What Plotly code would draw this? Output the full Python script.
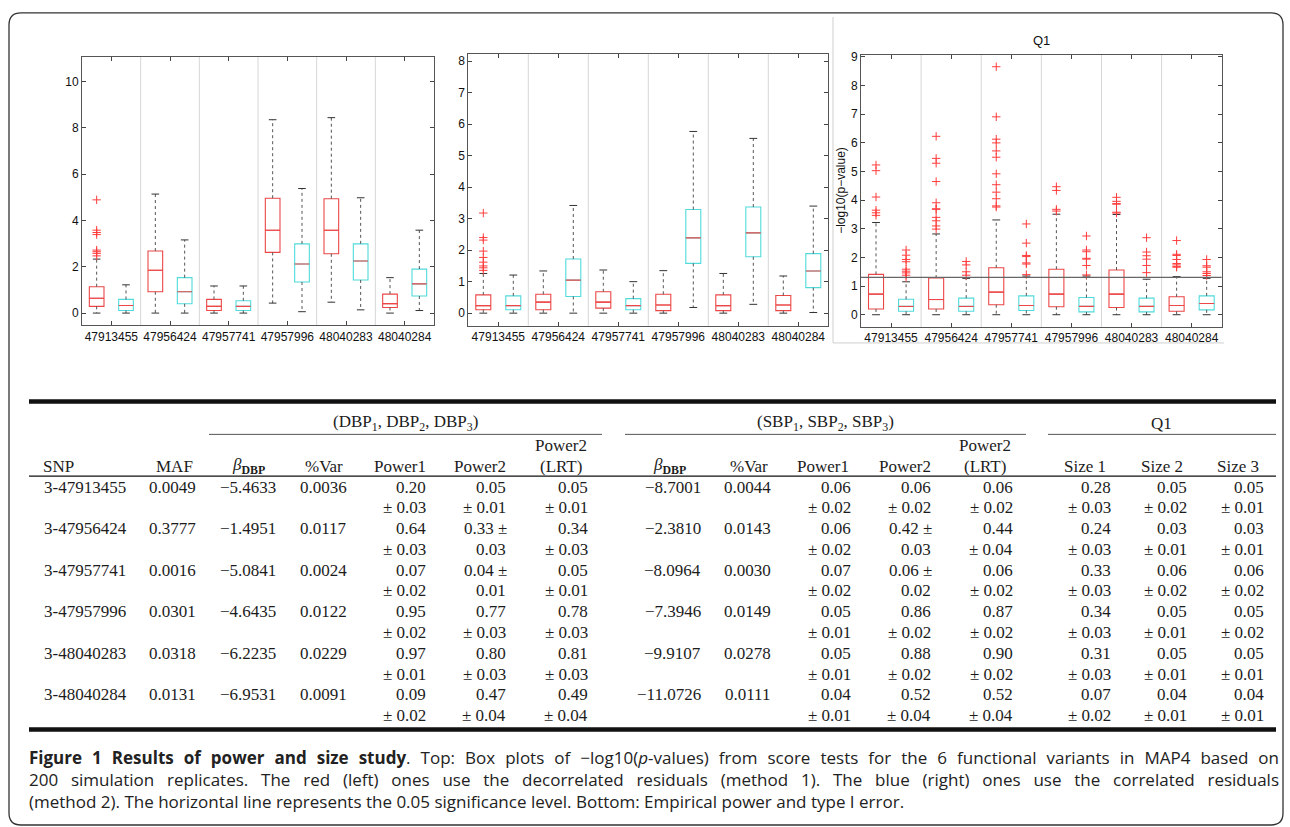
import math
import plotly.graph_objects as go

W, H = 1290, 827

# ---------------- data: box plots ----------------
snp_labels = ["47913455", "47956424", "47957741", "47957996", "48040283", "48040284"]

# Panel 1 (DBP)
p1_red_q1 = [0.29, 0.92, 0.11, 2.62, 2.56, 0.24]
p1_red_med = [0.64, 1.85, 0.29, 3.58, 3.58, 0.41]
p1_red_q3 = [1.14, 2.68, 0.59, 4.96, 4.94, 0.82]
p1_red_lo = [0.0, 0.0, 0.0, 0.43, 0.47, 0.0]
p1_red_hi = [2.33, 5.14, 1.17, 8.35, 8.44, 1.53]
p1_red_out = [[4.89, 3.58, 3.48, 3.39, 2.72, 2.65, 2.58, 2.47], [], [], [], [], []]
p1_cyan_q1 = [0.11, 0.40, 0.11, 1.34, 1.43, 0.74]
p1_cyan_med = [0.33, 0.92, 0.29, 2.12, 2.25, 1.26]
p1_cyan_q3 = [0.59, 1.53, 0.53, 2.99, 2.99, 1.90]
p1_cyan_lo = [0.0, 0.0, 0.0, 0.06, 0.14, 0.11]
p1_cyan_hi = [1.22, 3.16, 1.17, 5.38, 4.98, 3.58]
p1_cyan_out = [[], [], [], [], [], []]

# Panel 2 (SBP)
p2_red_q1 = [0.11, 0.11, 0.16, 0.08, 0.08, 0.08]
p2_red_med = [0.24, 0.35, 0.35, 0.26, 0.24, 0.26]
p2_red_q3 = [0.58, 0.60, 0.68, 0.60, 0.58, 0.56]
p2_red_lo = [0.0, 0.0, 0.0, 0.0, 0.0, 0.0]
p2_red_hi = [1.26, 1.34, 1.37, 1.35, 1.26, 1.18]
p2_red_out = [[3.18, 2.40, 2.32, 1.97, 1.77, 1.62, 1.50, 1.44, 1.36], [], [], [], [], []]
p2_cyan_q1 = [0.11, 0.53, 0.11, 1.58, 1.79, 0.81]
p2_cyan_med = [0.24, 1.05, 0.24, 2.39, 2.55, 1.34]
p2_cyan_q3 = [0.55, 1.72, 0.46, 3.29, 3.37, 1.89]
p2_cyan_lo = [0.0, 0.0, 0.0, 0.18, 0.28, 0.02]
p2_cyan_hi = [1.21, 3.42, 1.00, 5.77, 5.55, 3.40]
p2_cyan_out = [[], [], [], [], [], []]

# Panel 3 (Q1)
p3_red_q1 = [0.20, 0.20, 0.35, 0.28, 0.25, 0.12]
p3_red_med = [0.72, 0.53, 0.79, 0.72, 0.72, 0.32]
p3_red_q3 = [1.41, 1.28, 1.64, 1.59, 1.56, 0.63]
p3_red_lo = [0.0, 0.0, 0.0, 0.0, 0.0, 0.0]
p3_red_hi = [3.22, 2.82, 3.31, 3.51, 3.50, 1.33]
p3_red_out = [
    [5.23, 5.03, 4.11, 3.65, 3.56, 3.47],
    [6.23, 5.46, 5.29, 4.65, 3.91, 3.70, 3.68, 3.40, 3.28, 3.10, 2.99],
    [8.66, 6.91, 6.13, 6.00, 5.72, 5.50, 4.92, 4.54, 4.28, 4.05, 3.80, 3.76],
    [4.47, 4.34, 3.68, 3.62],
    [4.10, 3.96, 3.88, 3.86, 3.58, 3.55],
    [2.59, 2.11, 2.07, 1.93, 1.79, 1.74, 1.68, 1.66],
]
p3_cyan_q1 = [0.12, 0.12, 0.15, 0.10, 0.10, 0.17]
p3_cyan_med = [0.29, 0.29, 0.32, 0.29, 0.29, 0.39]
p3_cyan_q3 = [0.54, 0.58, 0.66, 0.60, 0.58, 0.66]
p3_cyan_lo = [0.0, 0.0, 0.0, 0.0, 0.0, 0.0]
p3_cyan_hi = [1.15, 1.27, 1.35, 1.35, 1.24, 1.27]
p3_cyan_out = [
    [2.26, 2.08, 1.93, 1.85, 1.59, 1.52, 1.46, 1.38, 1.30],
    [1.86, 1.74, 1.50, 1.38],
    [3.17, 2.50, 2.07, 2.03, 1.81, 1.77, 1.40],
    [2.75, 2.26, 2.20, 1.97, 1.94, 1.72, 1.39],
    [2.69, 2.19, 2.06, 1.94, 1.72, 1.47],
    [1.93, 1.71, 1.66, 1.50, 1.44, 1.37],
]
alpha_level = 0.05

# ---------------- data: table ----------------
table_snps = ["3-47913455", "3-47956424", "3-47957741", "3-47957996", "3-48040283", "3-48040284"]
table_maf = ["0.0049", "0.3777", "0.0016", "0.0301", "0.0318", "0.0131"]
dbp_beta = [-5.4633, -1.4951, -5.0841, -4.6435, -6.2235, -6.9531]
dbp_var = [0.0036, 0.0117, 0.0024, 0.0122, 0.0229, 0.0091]
dbp_power1 = [0.20, 0.64, 0.07, 0.95, 0.97, 0.09]
dbp_power1_se = [0.03, 0.03, 0.02, 0.02, 0.01, 0.02]
dbp_power2 = [0.05, 0.33, 0.04, 0.77, 0.80, 0.47]
dbp_power2_se = [0.01, 0.03, 0.01, 0.03, 0.03, 0.04]
dbp_lrt = [0.05, 0.34, 0.05, 0.78, 0.81, 0.49]
dbp_lrt_se = [0.01, 0.03, 0.01, 0.03, 0.03, 0.04]
sbp_beta = [-8.7001, -2.3810, -8.0964, -7.3946, -9.9107, -11.0726]
sbp_var = [0.0044, 0.0143, 0.0030, 0.0149, 0.0278, 0.0111]
sbp_power1 = [0.06, 0.06, 0.07, 0.05, 0.05, 0.04]
sbp_power1_se = [0.02, 0.02, 0.02, 0.01, 0.01, 0.01]
sbp_power2 = [0.06, 0.42, 0.06, 0.86, 0.88, 0.52]
sbp_power2_se = [0.02, 0.03, 0.02, 0.02, 0.02, 0.04]
sbp_lrt = [0.06, 0.44, 0.06, 0.87, 0.90, 0.52]
sbp_lrt_se = [0.02, 0.04, 0.02, 0.02, 0.02, 0.04]
q1_size1 = [0.28, 0.24, 0.33, 0.34, 0.31, 0.07]
q1_size1_se = [0.03, 0.03, 0.03, 0.03, 0.03, 0.02]
q1_size2 = [0.05, 0.03, 0.06, 0.05, 0.05, 0.04]
q1_size2_se = [0.02, 0.01, 0.02, 0.01, 0.01, 0.01]
q1_size3 = [0.05, 0.03, 0.06, 0.05, 0.05, 0.04]
q1_size3_se = [0.01, 0.01, 0.02, 0.02, 0.01, 0.01]
# rows where the "±" is typeset at the end of the first line (Power2 columns)
pm_inline_rows = [1, 2]

caption_lines = [
    "<b>Figure 1 Results of power and size study</b>. Top: Box plots of \u2212log10(<i>p</i>-values) from score tests for the 6 functional variants in MAP4 based on",
    "200 simulation replicates. The red (left) ones use the decorrelated residuals (method 1). The blue (right) ones use the correlated residuals",
    "(method 2). The horizontal line represents the 0.05 significance level. Bottom: Empirical power and type I error.",
]

# ---------------- style ----------------
RED = "rgb(236,70,70)"
CYAN = "rgb(80,218,218)"
WHISK = "#555555"
SANS = "Liberation Sans, Arial, sans-serif"
SERIF = "Liberation Serif, Times New Roman, serif"
CAPF = "Open Sans, Noto Sans, sans-serif"
OFFSET = 0.25
BOXW = 0.25
CAPW = 0.065


def fx(px):
    return px / W


def fy(py):
    return 1 - py / H


fig = go.Figure()
shapes = []
annotations = []

panels = [
    dict(xa="x", ya="y", xd=(82, 434), yd=(52.3, 322.3), yr=[-0.53, 11.06], dtick=2,
         red=(p1_red_q1, p1_red_med, p1_red_q3, p1_red_lo, p1_red_hi, p1_red_out),
         cyan=(p1_cyan_q1, p1_cyan_med, p1_cyan_q3, p1_cyan_lo, p1_cyan_hi, p1_cyan_out)),
    dict(xa="x2", ya="y2", xd=(468.3, 828.3), yd=(49.3, 322.7), yr=[-0.40, 8.23], dtick=1,
         red=(p2_red_q1, p2_red_med, p2_red_q3, p2_red_lo, p2_red_hi, p2_red_out),
         cyan=(p2_cyan_q1, p2_cyan_med, p2_cyan_q3, p2_cyan_lo, p2_cyan_hi, p2_cyan_out)),
    dict(xa="x3", ya="y3", xd=(861, 1221.7), yd=(50, 324), yr=[-0.43, 9.08], dtick=1,
         red=(p3_red_q1, p3_red_med, p3_red_q3, p3_red_lo, p3_red_hi, p3_red_out),
         cyan=(p3_cyan_q1, p3_cyan_med, p3_cyan_q3, p3_cyan_lo, p3_cyan_hi, p3_cyan_out)),
]

n = len(snp_labels)
layout_axes = {}
for k, p in enumerate(panels):
    xa, ya = p["xa"], p["ya"]
    # separators between groups
    for i in range(1, n):
        shapes.append(dict(type="line", xref=xa, yref=ya + " domain", x0=i + 0.5, x1=i + 0.5,
                           y0=0, y1=1, line=dict(color="#d6d6d6", width=1), layer="below"))
    for key, col, off in (("red", RED, -OFFSET), ("cyan", CYAN, OFFSET)):
        q1, med, q3, lo, hi, out = p[key]
        pos = [i + 1 + off for i in range(n)]
        # whiskers (dashed)
        wx, wy = [], []
        for x, a, b, c, d in zip(pos, q3, hi, q1, lo):
            wx += [x, x, None, x, x, None]
            wy += [a, b, None, c, d, None]
        fig.add_trace(go.Scatter(x=wx, y=wy, mode="lines", xaxis=xa, yaxis=ya,
                                 line=dict(color=WHISK, width=1, dash="3px,3px"),
                                 showlegend=False, hoverinfo="skip"))
        # whisker caps
        cx, cy = [], []
        for x, b, d in zip(pos, hi, lo):
            cx += [x - CAPW, x + CAPW, None, x - CAPW, x + CAPW, None]
            cy += [b, b, None, d, d, None]
        fig.add_trace(go.Scatter(x=cx, y=cy, mode="lines", xaxis=xa, yaxis=ya,
                                 line=dict(color="#333333", width=1),
                                 showlegend=False, hoverinfo="skip"))
        # boxes
        fig.add_trace(go.Box(x=pos, q1=q1, median=med, q3=q3, lowerfence=q1, upperfence=q3,
                             width=BOXW, whiskerwidth=0, boxpoints=False,
                             line=dict(color=col, width=1.1), fillcolor="rgba(255,255,255,0)",
                             xaxis=xa, yaxis=ya, showlegend=False, hoverinfo="skip"))
        # medians (always red)
        mx, my = [], []
        for x, m in zip(pos, med):
            mx += [x - BOXW / 2, x + BOXW / 2, None]
            my += [m, m, None]
        fig.add_trace(go.Scatter(x=mx, y=my, mode="lines", xaxis=xa, yaxis=ya,
                                 line=dict(color=RED, width=1.1),
                                 showlegend=False, hoverinfo="skip"))
        # outliers
        ox, oy = [], []
        for x, o in zip(pos, out):
            ox += [x] * len(o)
            oy += list(o)
        if ox:
            fig.add_trace(go.Scatter(x=ox, y=oy, mode="markers", xaxis=xa, yaxis=ya,
                                     marker=dict(symbol="cross-thin", size=6,
                                                 line=dict(color="rgb(255,60,60)", width=1)),
                                     showlegend=False, hoverinfo="skip"))
    xname = "xaxis" + xa[1:]
    yname = "yaxis" + ya[1:]
    layout_axes[xname] = dict(domain=[fx(p["xd"][0]), fx(p["xd"][1])], range=[0.5, n + 0.5],
                              tickmode="array", tickvals=list(range(1, n + 1)), ticktext=snp_labels,
                              ticks="inside", ticklen=4, tickcolor="#444", showline=True,
                              linecolor="#555", linewidth=1, mirror="ticks", showgrid=False,
                              zeroline=False, anchor=ya,
                              tickfont=dict(family=SANS, size=12, color="#111"))
    layout_axes[yname] = dict(domain=[fy(p["yd"][1]), fy(p["yd"][0])], range=p["yr"],
                              dtick=p["dtick"], tick0=0, ticks="inside", ticklen=4, tickcolor="#444",
                              showline=True, linecolor="#555", linewidth=1, mirror="ticks",
                              showgrid=False, zeroline=False, anchor=xa,
                              tickfont=dict(family=SANS, size=12, color="#111"))

# significance line on the Q1 panel
sig = -math.log10(alpha_level)
shapes.append(dict(type="line", xref="x3 domain", yref="y3", x0=0, x1=1, y0=sig, y1=sig,
                   line=dict(color="#666666", width=1.3)))

# panel 3 image edge
shapes.append(dict(type="line", xref="paper", yref="paper", x0=fx(833), x1=fx(833), y0=fy(12), y1=fy(340),
                   line=dict(color="#cfcfcf", width=1)))
shapes.append(dict(type="line", xref="paper", yref="paper", x0=fx(833), x1=fx(1224), y0=fy(340), y1=fy(340),
                   line=dict(color="#cfcfcf", width=1)))

annotations.append(dict(x=fx(1041), y=fy(36), xref="paper", yref="paper", text="Q1", showarrow=False,
                        xanchor="center", yanchor="middle", font=dict(family=SANS, size=13, color="#111")))
annotations.append(dict(x=fx(841), y=fy(187), xref="paper", yref="paper", text="\u2212log10(p\u2212value)",
                        showarrow=False, textangle=-90, xanchor="center", yanchor="middle",
                        font=dict(family=SANS, size=12, color="#111")))

# ---------------- table ----------------
TXT = "#1c1c1c"
TFS = 17


def txt(x, y, s, anchor="left", size=TFS, family=SERIF):
    annotations.append(dict(x=fx(x), y=fy(y), xref="paper", yref="paper", text=s, showarrow=False,
                            xanchor=anchor, yanchor="middle", font=dict(family=family, size=size, color=TXT)))


def hline(x0, x1, y, w, color="#111"):
    shapes.append(dict(type="line", xref="paper", yref="paper", x0=fx(x0), x1=fx(x1), y0=fy(y), y1=fy(y),
                       line=dict(color=color, width=w)))


TL, TR = 29, 1276
hline(TL, TR, 399, 4.5)
hline(TL, TR, 474, 1.3)
hline(TL, TR, 729, 4.5)
hline(209, 602, 432, 1, "#555")
hline(625, 1026, 432, 1, "#555")
hline(1048, TR, 432, 1, "#555")

txt(405, 421, "(DBP<sub>1</sub>, DBP<sub>2</sub>, DBP<sub>3</sub>)", "center")
txt(825, 421, "(SBP<sub>1</sub>, SBP<sub>2</sub>, SBP<sub>3</sub>)", "center")
txt(1161, 421, "Q1", "center")

Y_HEAD = 464
Y_HEAD_TOP = 443
beta_head = "<i>\u03b2</i><sub><b>DBP</b></sub>"
txt(41, Y_HEAD, "SNP", "left")
txt(174, Y_HEAD, "MAF", "center")
txt(248, Y_HEAD, beta_head, "center")
txt(324, Y_HEAD, "%Var", "center")
txt(669, Y_HEAD, beta_head, "center")
txt(749, Y_HEAD, "%Var", "center")

power_cols = [
    (428, 400, "Power1", dbp_power1, dbp_power1_se, False),
    (508, 480, "Power2", dbp_power2, dbp_power2_se, True),
    (590, 561, "LRT", dbp_lrt, dbp_lrt_se, False),
    (853, 823, "Power1", sbp_power1, sbp_power1_se, False),
    (933, 905, "Power2", sbp_power2, sbp_power2_se, True),
    (1015, 985, "LRT", sbp_lrt, sbp_lrt_se, False),
    (1113, 1085, "Size 1", q1_size1, q1_size1_se, False),
    (1189, 1162, "Size 2", q1_size2, q1_size2_se, False),
    (1266, 1238, "Size 3", q1_size3, q1_size3_se, False),
]
for xr, xc, head, vals, ses, inline in power_cols:
    if head == "LRT":
        txt(xc, Y_HEAD_TOP, "Power2", "center")
        txt(xc, Y_HEAD, "(LRT)", "center")
    else:
        txt(xc, Y_HEAD, head, "center")
    for r, (v, e) in enumerate(zip(vals, ses)):
        y1 = 485 + r * 41.8
        y2 = y1 + 20.9
        if inline and r in pm_inline_rows:
            txt(xr + 1, y1, f"{v:.2f} \u00b1", "right")
            txt(xr, y2, f"{e:.2f}", "right")
        else:
            txt(xr, y1, f"{v:.2f}", "right")
            txt(xr, y2, f"\u00b1 {e:.2f}", "right")

for r in range(len(table_snps)):
    y1 = 485 + r * 41.8
    txt(42, y1, table_snps[r], "left")
    txt(198, y1, table_maf[r], "right")
    txt(278, y1, f"{dbp_beta[r]:.4f}".replace("-", "\u2212"), "right")
    txt(349, y1, f"{dbp_var[r]:.4f}", "right")
    txt(703, y1, f"{sbp_beta[r]:.4f}".replace("-", "\u2212"), "right")
    txt(773, y1, f"{sbp_var[r]:.4f}", "right")

# ---------------- caption ----------------
for i, line in enumerate(caption_lines):
    annotations.append(dict(x=fx(27), y=fy(757 + i * 22), xref="paper", yref="paper", text=line,
                            showarrow=False, xanchor="left", yanchor="middle", align="left",
                            font=dict(family=CAPF, size=17, color="#222")))

# ---------------- outer rounded frame ----------------
x0, y0, x1, y1, rr = 9, 8, 1283, 825, 12
path = (f"M {fx(x0 + rr)},{fy(y0)} L {fx(x1 - rr)},{fy(y0)} Q {fx(x1)},{fy(y0)} {fx(x1)},{fy(y0 + rr)} "
        f"L {fx(x1)},{fy(y1 - rr)} Q {fx(x1)},{fy(y1)} {fx(x1 - rr)},{fy(y1)} "
        f"L {fx(x0 + rr)},{fy(y1)} Q {fx(x0)},{fy(y1)} {fx(x0)},{fy(y1 - rr)} "
        f"L {fx(x0)},{fy(y0 + rr)} Q {fx(x0)},{fy(y0)} {fx(x0 + rr)},{fy(y0)} Z")
shapes.append(dict(type="path", xref="paper", yref="paper", path=path, line=dict(color="#333", width=1.3)))

fig.update_layout(
    width=W, height=H, margin=dict(l=0, r=0, t=0, b=0), autosize=False,
    paper_bgcolor="white", plot_bgcolor="white", boxmode="overlay",
    shapes=shapes, annotations=annotations, showlegend=False,
    **layout_axes,
)

# the caption's first two lines are justified to the text block's right edge
justify_js = """
document.body.style.margin='0';
document.body.style.overflow='hidden';
(function(){
  var RIGHT = 1279;
  function justify(){
    var gd = document.getElementById('{plot_id}');
    if (!gd) return;
    gd.querySelectorAll('text.annotation-text').forEach(function(t){
      var s = t.textContent || '';
      if (s.indexOf('Figure 1') === 0 || s.indexOf('200 simulation') === 0) {
        t.style.wordSpacing = '0px';
        var nsp = (s.match(/ /g) || []).length;
        var left = t.getBoundingClientRect().left;
        var w = t.getComputedTextLength();
        var extra = (RIGHT - left) - w;
        if (nsp > 0 && extra > 0) { t.style.wordSpacing = (extra / nsp) + 'px'; }
      }
    });
  }
  justify();
  setTimeout(justify, 100);
})();
"""

fig.write_html("out.html", config={"displayModeBar": False}, post_script=justify_js)
